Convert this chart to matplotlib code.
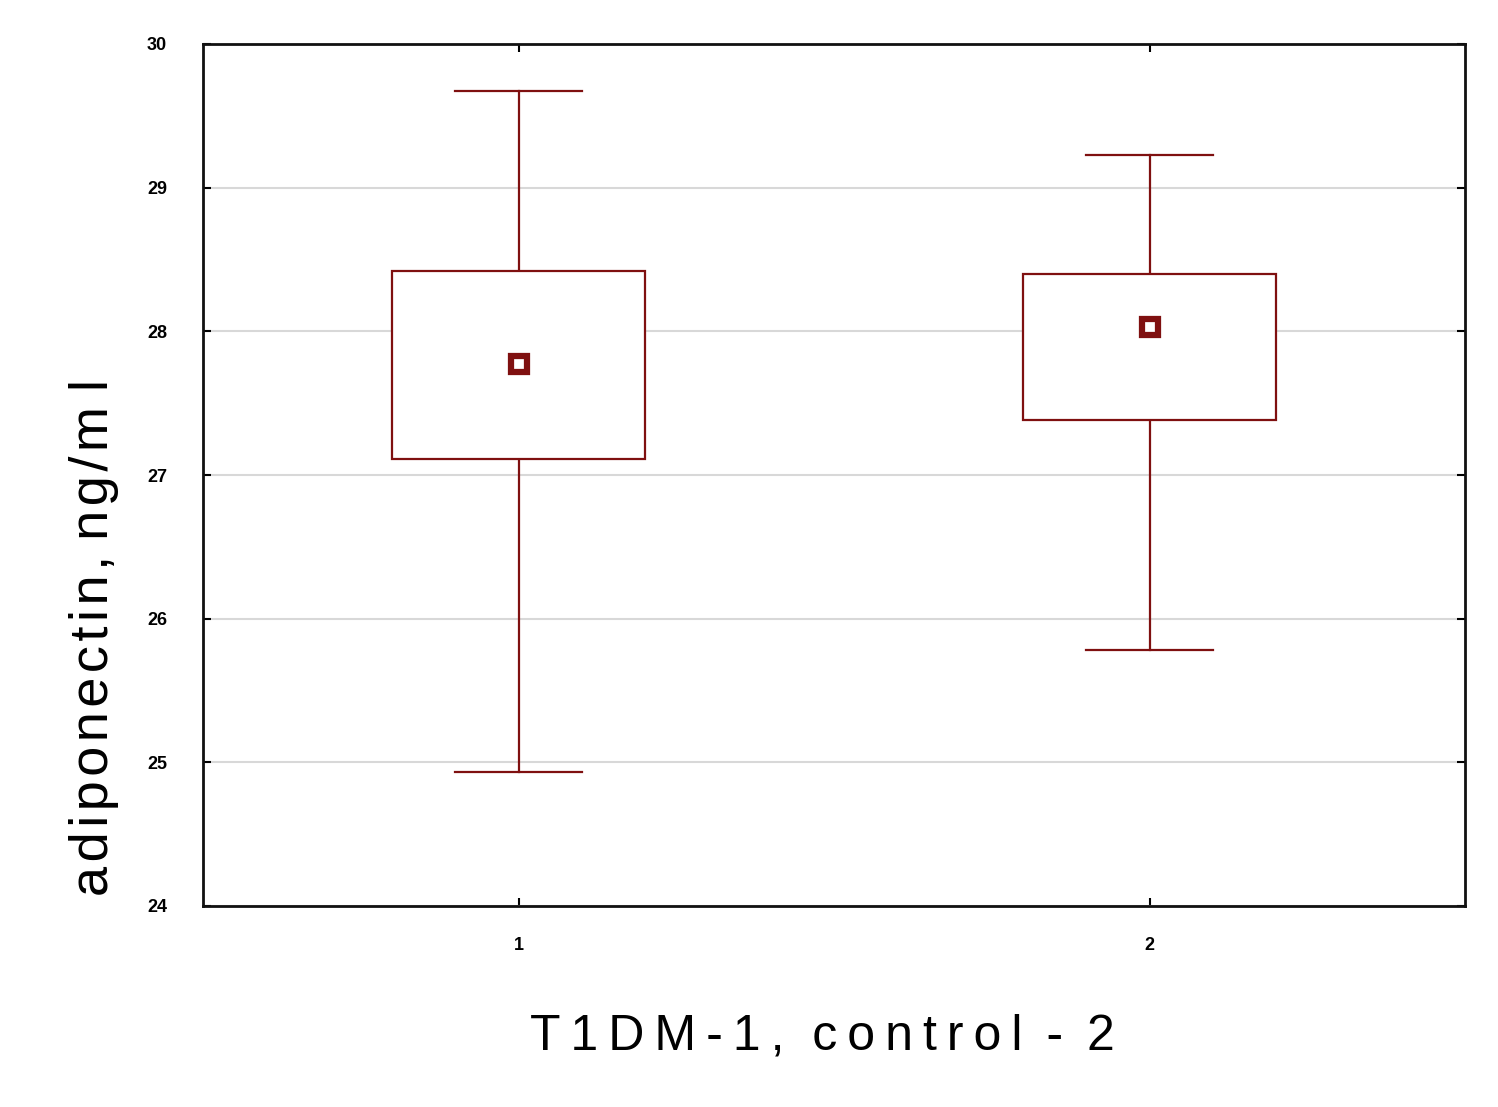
import matplotlib
matplotlib.use("Agg")
import matplotlib.pyplot as plt
from matplotlib.patches import Rectangle

plt.rcParams['font.family'] = ['Liberation Sans', 'DejaVu Sans']

groups = [1, 2]
group_labels = ["1", "2"]
means = [27.77, 28.03]
box_low = [27.11, 27.38]
box_high = [28.42, 28.40]
whisk_low = [24.93, 25.78]
whisk_high = [29.67, 29.23]
y_ticks = [24, 25, 26, 27, 28, 29, 30]

color = "#7f1010"
fig = plt.figure(figsize=(14.98, 11.07), dpi=100)
ax = fig.add_axes([203/1498, 1 - 906/1107, (1465-203)/1498, (906-44)/1107])

box_w = 0.4
cap_w = 0.2
for x, m, bl, bh, wl, wh in zip(groups, means, box_low, box_high, whisk_low, whisk_high):
    ax.add_patch(Rectangle((x - box_w/2, bl), box_w, bh - bl, facecolor="white",
                           edgecolor=color, lw=1.6, zorder=3))
    ax.plot([x, x], [bh, wh], color=color, lw=1.6, zorder=2)
    ax.plot([x, x], [bl, wl], color=color, lw=1.6, zorder=2)
    ax.plot([x - cap_w/2, x + cap_w/2], [wh, wh], color=color, lw=1.6, zorder=2)
    ax.plot([x - cap_w/2, x + cap_w/2], [wl, wl], color=color, lw=1.6, zorder=2)
    ax.plot([x], [m], marker="s", ms=12, mfc="white", mec=color, mew=4.5, zorder=4)

ax.set_xlim(0.5, 2.5)
ax.set_ylim(24, 30)
ax.set_xticks(groups)
ax.set_xticklabels(group_labels)
ax.set_yticks(y_ticks)
ax.set_yticklabels([str(t) for t in y_ticks])
ax.yaxis.grid(True, color="#d8d8d8", lw=1.5)
ax.set_axisbelow(True)
ax.tick_params(direction="in", length=6, width=1.5, top=True, right=True,
               labelsize=13, pad=12)
for lab in ax.get_xticklabels() + ax.get_yticklabels():
    lab.set_fontweight("bold")
ax.tick_params(axis="y", pad=26)
ax.tick_params(axis="x", pad=22)
for s in ax.spines.values():
    s.set_linewidth(2)
    s.set_color("#111111")

hs = "\u200a"
ts = "\u2009"
xl = ts.join("T1DM-1,") + "  " + ts.join("control") + " " + ts + "-" + " " + ts + "2"
ax.set_xlabel(xl, fontsize=36)
ax.xaxis.set_label_coords((822 - 203) / 1262, -(1037 - 906) / 862)
ax.xaxis.label.set_va("center")
yl = hs.join("adiponectin,") + " " + hs.join("ng/m") + " " + "l"
ax.set_ylabel(yl, fontsize=39)
ax.yaxis.set_label_coords(-(203 - 94) / 1262, (906 - 637) / 862)
ax.yaxis.label.set_va("center")
ax.yaxis.label.set_ha("center")

fig.savefig("out.png", dpi=100)
